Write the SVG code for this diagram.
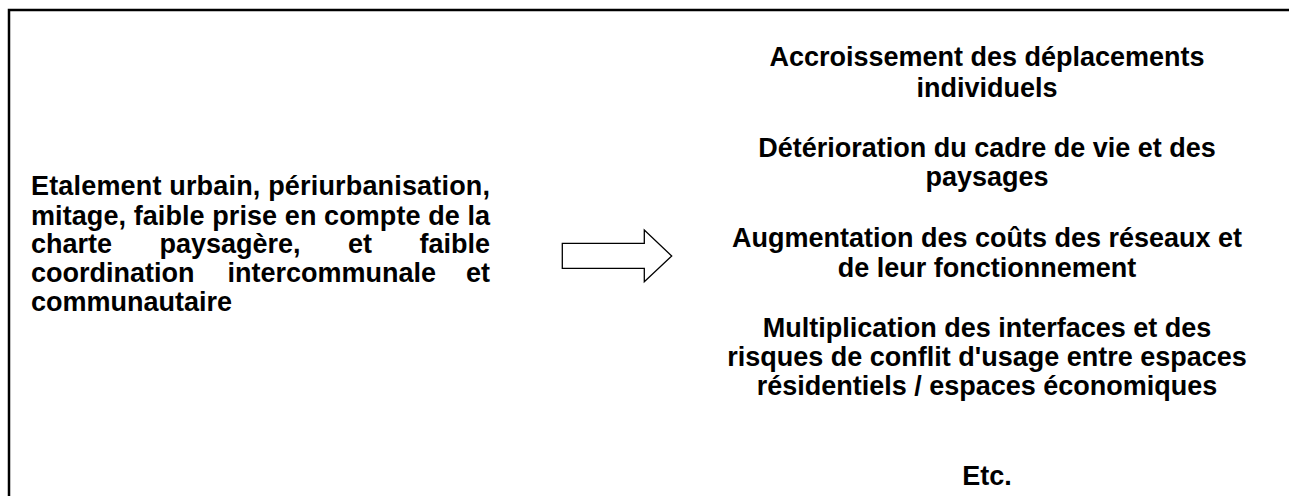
<svg xmlns="http://www.w3.org/2000/svg" width="1289" height="496" viewBox="0 0 1289 496">
  <style>
    .t { font-family: "Liberation Sans", Arial, sans-serif; font-weight: bold; font-size: 27px; fill: #000; }
    .c { text-anchor: middle; }
    .frame { fill: none; stroke: #000; stroke-width: 2.5; }
    .arrow { fill: #fff; stroke: #000; stroke-width: 1.3; stroke-linejoin: miter; }
  </style>
  <rect width="1289" height="496" fill="#fff"/>
  <path class="frame" d="M9,497 V10 H1290"/>
  <g id="cause">
    <text class="t" x="31" y="195" textLength="459" lengthAdjust="spacing">Etalement urbain, périurbanisation,</text>
    <text class="t" x="31" y="225" textLength="459" lengthAdjust="spacing">mitage, faible prise en compte de la</text>
    <text class="t" y="253"><tspan x="31">charte</tspan><tspan x="159.5">paysagère,</tspan><tspan x="348">et</tspan><tspan x="419.5">faible</tspan></text>
    <text class="t" y="282"><tspan x="31">coordination</tspan><tspan x="227.5">intercommunale</tspan><tspan x="466">et</tspan></text>
    <text class="t" x="31" y="311">communautaire</text>
  </g>
  <g id="connectors">
    <polygon class="arrow" points="562.3,243.3 644.3,243.3 644.3,230 671.7,256 644.3,281.7 644.3,268.3 562.3,268.3"/>
  </g>
  <g id="effects">
    <text class="t c" x="987" y="66">Accroissement des déplacements</text>
    <text class="t c" x="987" y="97">individuels</text>
    <text class="t c" x="987" y="157">Détérioration du cadre de vie et des</text>
    <text class="t c" x="987" y="186">paysages</text>
    <text class="t c" x="987" y="247">Augmentation des coûts des réseaux et</text>
    <text class="t c" x="987" y="277">de leur fonctionnement</text>
    <text class="t c" x="987" y="337">Multiplication des interfaces et des</text>
    <text class="t c" x="987" y="366">risques de conflit d'usage entre espaces</text>
    <text class="t c" x="987" y="395">résidentiels / espaces économiques</text>
    <text class="t c" x="987" y="485">Etc.</text>
  </g>
</svg>
